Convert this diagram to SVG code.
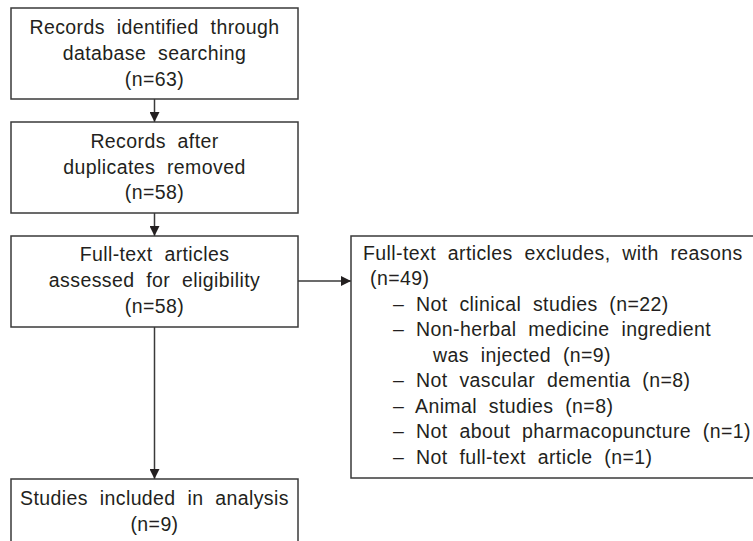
<svg xmlns="http://www.w3.org/2000/svg" width="753" height="541" viewBox="0 0 753 541">
<defs>
<style>
.box{fill:#fff;stroke:#3a3a3a;stroke-width:1.5}
.t{font-family:"Liberation Sans",Arial,sans-serif;font-size:19.5px;fill:#231f20;letter-spacing:0.4px;word-spacing:6px}
.c{text-anchor:middle}
.ln{stroke:#3a3a3a;stroke-width:1.5;fill:none}
</style>
<marker id="ah" viewBox="0 0 10 10" refX="10" refY="5" markerWidth="10" markerHeight="10" markerUnits="userSpaceOnUse" orient="auto">
<path d="M0,0 L10,5 L0,10 Z" fill="#231f20"/>
</marker>
</defs>
<rect width="753" height="541" fill="#fff"/>
<g id="connectors">
<line class="ln" x1="154.5" y1="99" x2="154.5" y2="122" marker-end="url(#ah)"/>
<line class="ln" x1="154.5" y1="213" x2="154.5" y2="236" marker-end="url(#ah)"/>
<line class="ln" x1="154.5" y1="327" x2="154.5" y2="479" marker-end="url(#ah)"/>
<line class="ln" x1="298" y1="281" x2="351" y2="281" marker-end="url(#ah)"/>
</g>
<g id="n1">
<rect class="box" x="11" y="8" width="287" height="91"/>
<text class="t c" x="154.5" y="34">Records identified through</text>
<text class="t c" x="154.5" y="60">database searching</text>
<text class="t c" x="154.5" y="86">(n=63)</text>
</g>
<g id="n2">
<rect class="box" x="11" y="122" width="287" height="91"/>
<text class="t c" x="154.5" y="148">Records after</text>
<text class="t c" x="154.5" y="174">duplicates removed</text>
<text class="t c" x="154.5" y="199">(n=58)</text>
</g>
<g id="n3">
<rect class="box" x="11" y="236" width="287" height="91"/>
<text class="t c" x="154.5" y="261">Full-text articles</text>
<text class="t c" x="154.5" y="287">assessed for eligibility</text>
<text class="t c" x="154.5" y="313">(n=58)</text>
</g>
<g id="n4">
<rect class="box" x="11" y="479" width="287" height="80"/>
<text class="t c" x="154.5" y="505">Studies included in analysis</text>
<text class="t c" x="154.5" y="531">(n=9)</text>
</g>
<g id="n5">
<rect class="box" x="351" y="236" width="420" height="242"/>
<text class="t" x="363" y="259.5">Full-text articles excludes, with reasons</text>
<text class="t" x="370" y="285">(n=49)</text>
<text class="t" x="393" y="310.5">– Not clinical studies (n=22)</text>
<text class="t" x="393" y="336">– Non-herbal medicine ingredient</text>
<text class="t" x="433" y="361.5">was injected (n=9)</text>
<text class="t" x="393" y="387">– Not vascular dementia (n=8)</text>
<text class="t" x="393" y="412.5">– Animal studies (n=8)</text>
<text class="t" x="393" y="438">– Not about pharmacopuncture (n=1)</text>
<text class="t" x="393" y="463.5">– Not full-text article (n=1)</text>
</g>
</svg>
